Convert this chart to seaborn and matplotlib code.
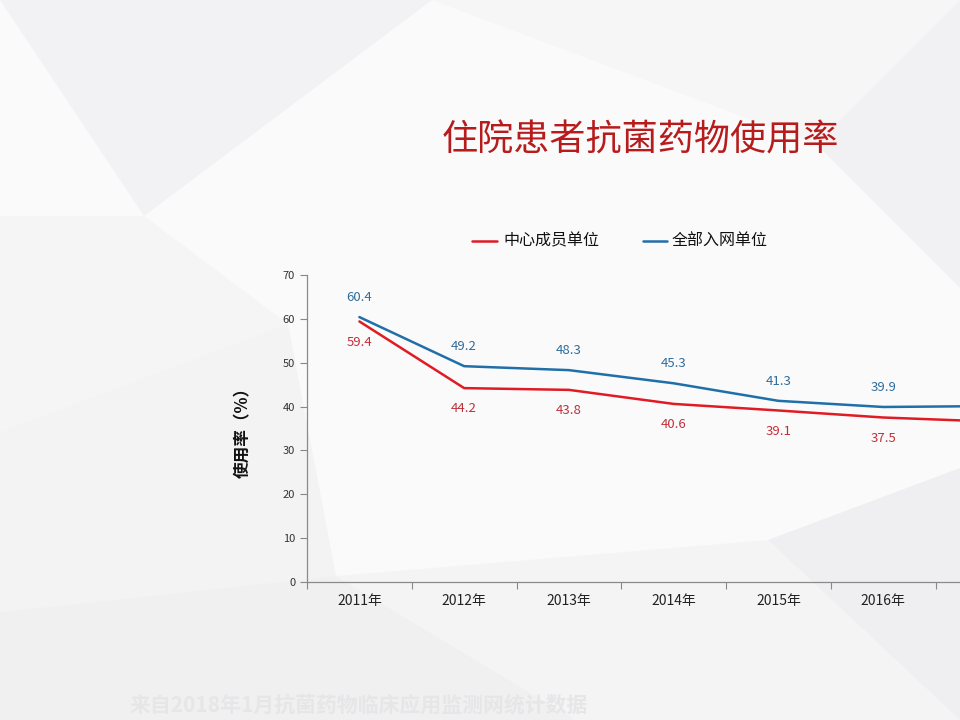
import pandas as pd
import numpy as np
import matplotlib
matplotlib.use('Agg')
import matplotlib.pyplot as plt
from matplotlib.patches import Polygon
import seaborn as sns

# data (2017 is cut off by the slide edge, estimated)
years = ['2011年', '2012年', '2013年', '2014年', '2015年', '2016年', '2017年']
center_units = [59.4, 44.2, 43.8, 40.6, 39.1, 37.5, 36.6]
all_units = [60.4, 49.2, 48.3, 45.3, 41.3, 39.9, 40.1]
series_names = ['中心成员单位', '全部入网单位']

df = pd.DataFrame({
    'year': years * 2,
    'rate': center_units + all_units,
    'group': [series_names[0]] * len(years) + [series_names[1]] * len(years),
})
df['pos'] = list(range(len(years))) * 2

sns.set_theme(style='white')
plt.rcParams['font.family'] = ['Noto Sans CJK SC', 'DejaVu Sans']
plt.rcParams['axes.unicode_minus'] = False

red = '#E01B24'
blue = '#1F6FA8'
red_txt = '#C0303A'
blue_txt = '#2F6D9B'

fig = plt.figure(figsize=(9.6, 7.2), dpi=100)
fig.patch.set_facecolor('#FAFAFB')

# faint low-poly background shapes
bg = [
    ([(0, 1), (0.45, 1), (0.15, 0.7)], '#F2F2F4'),
    ([(0.45, 1), (1, 1), (0.85, 0.8)], '#F6F6F7'),
    ([(0, 0.7), (0.15, 0.7), (0.3, 0.55), (0, 0.4)], '#F5F5F6'),
    ([(0, 0.4), (0.3, 0.55), (0.35, 0.2), (0, 0.15)], '#F3F3F4'),
    ([(0, 0.15), (0.35, 0.2), (0.6, 0), (0, 0)], '#F0F0F1'),
    ([(0.6, 0), (0.35, 0.2), (0.8, 0.25), (1, 0)], '#F4F4F5'),
    ([(1, 0), (0.8, 0.25), (1, 0.35)], '#EFEFF1'),
    ([(0.85, 0.8), (1, 1), (1, 0.6)], '#F1F1F3'),
]
for pts, c in bg:
    fig.patches.append(Polygon(pts, closed=True, transform=fig.transFigure,
                               facecolor=c, edgecolor='none', zorder=-10))

ax = fig.add_axes([0.3198, 0.1917, 0.764, 0.4264])
ax.set_facecolor('none')

sns.lineplot(data=df, x='pos', y='rate', hue='group', hue_order=series_names,
             palette=[red, blue], linewidth=1.8, ax=ax, legend=False, sort=False)

ax.set_xlim(-0.5, len(years) - 0.5)
ax.set_ylim(0, 70)

# only label what falls inside the slide
fig.canvas.draw()
visible = [ax.transData.transform((i, 0))[0] < 960 - 20 for i in range(len(years))]

for i in range(len(years)):
    if not visible[i]:
        continue
    ax.annotate(f'{all_units[i]}', (i, all_units[i]), xytext=(0, 14),
                textcoords='offset points', ha='center', va='center',
                fontsize=9.5, color=blue_txt)
    ax.annotate(f'{center_units[i]}', (i, center_units[i]), xytext=(0, -15),
                textcoords='offset points', ha='center', va='center',
                fontsize=9.5, color=red_txt)

ax.set_yticks(range(0, 71, 10))
ax.set_xticks(range(len(years)))
ax.set_xticklabels([y if v else '' for y, v in zip(years, visible)],
                   fontsize=10, color='#222222')
ax.set_xticks(np.arange(-0.5, len(years), 1), minor=True)
ax.tick_params(axis='y', labelsize=8, colors='#333333', length=5, width=0.8,
               direction='out', left=True, color='#888888')
ax.tick_params(axis='x', which='major', length=0, pad=9)
ax.tick_params(axis='x', which='minor', length=5, width=0.8, direction='out',
               bottom=True, color='#888888')
for s in ['top', 'right']:
    ax.spines[s].set_visible(False)
for s in ['left', 'bottom']:
    ax.spines[s].set_color('#8A8A8A')
    ax.spines[s].set_linewidth(0.9)
ax.set_xlabel('')
ax.set_ylabel('使用率（%）', fontsize=12, fontweight='bold', color='#111111',
              labelpad=22)

# legend drawn in figure space
ax_l = fig.add_axes([0, 0, 1, 1], facecolor='none')
ax_l.axis('off')
ax_l.set_xlim(0, 960)
ax_l.set_ylim(720, 0)
ax_l.plot([472, 497], [241, 241], color=red, lw=1.8)
ax_l.text(503, 241, series_names[0], fontsize=11.5, va='center', color='#111111')
ax_l.plot([643, 667], [241, 241], color=blue, lw=1.8)
ax_l.text(672, 241, series_names[1], fontsize=11.5, va='center', color='#111111')

fig.text(0.667, 0.805, '住院患者抗菌药物使用率', fontsize=26, fontweight='medium',
         color='#B71C1C', ha='center', va='center')
fig.text(0.135, 0.021, '来自2018年1月抗菌药物临床应用监测网统计数据', fontsize=15,
         fontweight='bold', color='#E6E6E8', ha='left', va='center')

fig.savefig('out.png', dpi=100, facecolor=fig.get_facecolor())
